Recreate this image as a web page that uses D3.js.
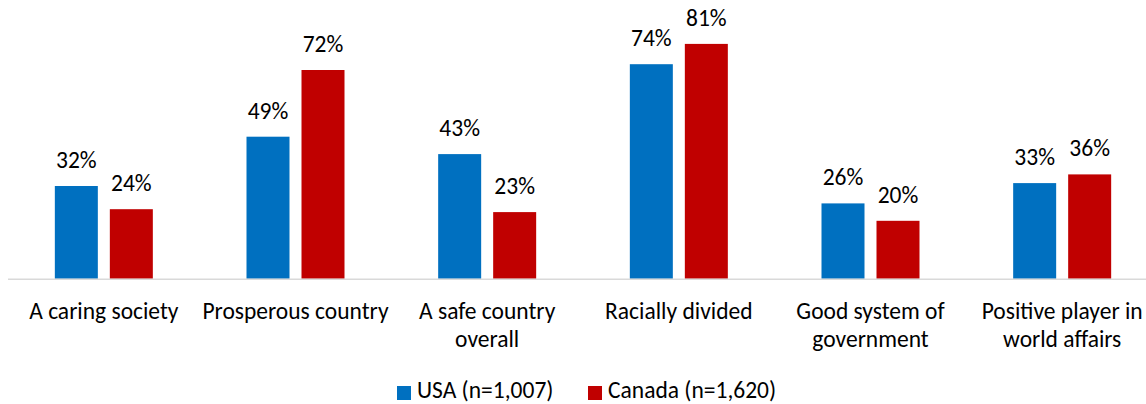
<!DOCTYPE html>
<html>
<head>
<meta charset="utf-8">
<script src="https://cdn.jsdelivr.net/npm/d3@7"></script>
<style>
  html, body { margin: 0; padding: 0; background: #fff; }
  svg { display: block; }
  text { font-family: Carlito, Lato, "Open Sans", sans-serif; fill: #000; }
</style>
</head>
<body>
<svg id="chart" width="1146" height="404"></svg>
<script>
// Survey categories (multi-line labels split on "|")
const categories = [
  "A caring society",
  "Prosperous country",
  "A safe country|overall",
  "Racially divided",
  "Good system of|government",
  "Positive player in|world affairs"
];
const seriesNames = ["USA (n=1,007)", "Canada (n=1,620)"];
const usaValues = [32, 49, 43, 74, 26, 33];
const canadaValues = [24, 72, 23, 81, 20, 36];
const seriesColors = ["#0070C0", "#C00000"];

const svg = d3.select("#chart");
const baseY = 278.8;
const fontSize = 23.5;

const x = d3.scaleBand().domain(categories).range([8, 1158]).paddingInner(0).paddingOuter(0);
const inner = d3.scaleBand().domain([0, 1]).range([0, 98]).paddingInner(12 / 55);
const y = d3.scaleLinear().domain([0, 100]).range([baseY, baseY - 290]);

const rows = categories.map((c, i) => ({ cat: c, vals: [usaValues[i], canadaValues[i]] }));

const groups = svg.append("g").selectAll("g")
  .data(rows).join("g")
  .attr("transform", d => `translate(${x(d.cat) + (x.bandwidth() - 98) / 2},0)`);

groups.selectAll("rect")
  .data(d => d.vals.map((v, k) => ({ v, k })))
  .join("rect")
  .attr("x", d => inner(d.k))
  .attr("width", inner.bandwidth())
  .attr("y", d => y(d.v))
  .attr("height", d => y(0) - y(d.v))
  .attr("fill", d => seriesColors[d.k]);

groups.selectAll("text.val")
  .data(d => d.vals.map((v, k) => ({ v, k })))
  .join("text")
  .attr("class", "val")
  .attr("x", d => inner(d.k) + inner.bandwidth() / 2)
  .attr("y", d => y(d.v) - 18)
  .attr("text-anchor", "middle")
  .style("font-size", fontSize + "px")
  .text(d => d.v + "%");

// Category axis line
svg.append("line")
  .attr("x1", x.range()[0]).attr("x2", x.range()[1])
  .attr("y1", y(0) + 0.5).attr("y2", y(0) + 0.5)
  .attr("stroke", "#d9d9d9").attr("stroke-width", 1.5);

// Category labels
const labels = svg.append("g").selectAll("text")
  .data(categories).join("text")
  .attr("x", d => x(d) + x.bandwidth() / 2)
  .attr("y", 318.5)
  .attr("text-anchor", "middle")
  .style("font-size", fontSize + "px");
labels.selectAll("tspan")
  .data(d => d.split("|"))
  .join("tspan")
  .attr("x", function () { return d3.select(this.parentNode).attr("x"); })
  .attr("dy", (d, i) => i === 0 ? 0 : 28)
  .text(d => d);

// Legend
const legendItems = [
  { name: seriesNames[0], color: seriesColors[0], x: 397 },
  { name: seriesNames[1], color: seriesColors[1], x: 588 }
];
const lg = svg.append("g").selectAll("g").data(legendItems).join("g")
  .attr("transform", d => `translate(${d.x},386)`);
lg.append("rect").attr("width", 14).attr("height", 14).attr("fill", d => d.color);
lg.append("text").attr("x", 20).attr("y", 12)
  .style("font-size", fontSize + "px")
  .text(d => d.name);
</script>
</body>
</html>
